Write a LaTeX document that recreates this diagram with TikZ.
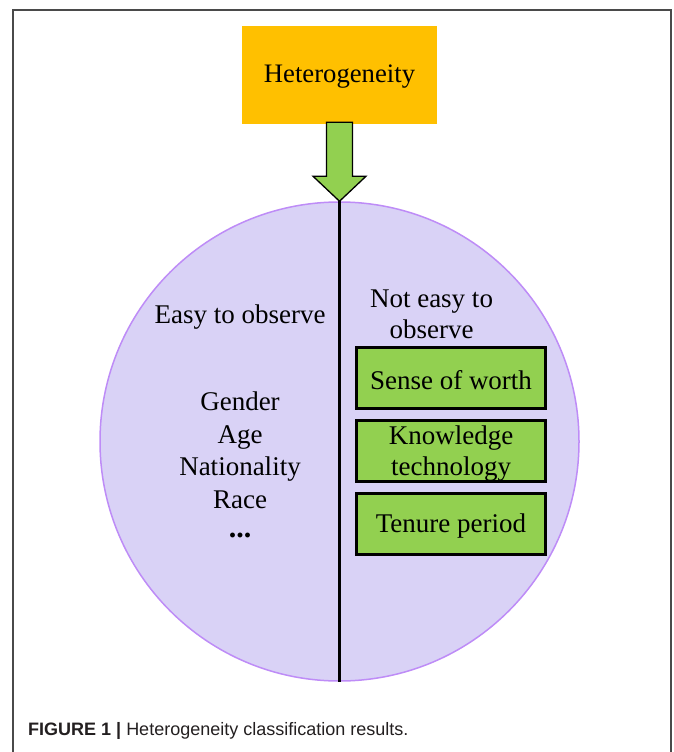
\documentclass[tikz,border=0pt]{standalone}
\usepackage{fontspec}
\setmainfont{Liberation Serif}
\newfontfamily\capfont{Liberation Sans}
\usetikzlibrary{calc}
\definecolor{orangebox}{HTML}{FFC000}
\definecolor{greenbox}{HTML}{92D050}
\definecolor{lavfill}{HTML}{D9D2F6}
\definecolor{lavedge}{HTML}{BE8CF7}
\definecolor{capgray}{HTML}{231F20}
\definecolor{framegray}{HTML}{4A4A4A}
\newcommand{\lowertext}[2]{\raisebox{-#1}[\height][\depth]{#2}}
\begin{document}
\begin{tikzpicture}[x=1pt,y=-1pt,
  txt/.style={font=\fontsize{27}{32}\selectfont, inner sep=0pt, align=center},
  greenitem/.style={draw=black, line width=3pt, fill=greenbox, minimum width=189pt, minimum height=61pt, inner sep=0pt, align=center, font=\fontsize{27}{29}\selectfont},
  frameline/.style={draw=framegray, line width=1.3pt},
]
\useasboundingbox (0,0) rectangle (673,752);
\draw[frameline] (13,10) rectangle (671,800);
\node[fill=orangebox, minimum width=195pt, minimum height=98pt, inner sep=0pt, font=\fontsize{26.7}{30}\selectfont] (hetero) at (339.5,75) {\lowertext{2pt}{Heterogeneity}};
\node[circle, fill=lavfill, draw=lavedge, line width=1.5pt, minimum size=479pt, inner sep=0pt] (circ) at (339.5,441.5) {};
\draw[line width=2.5pt] (circ.north) -- (circ.south);
\draw[fill=greenbox, line width=1.3pt, line join=miter]
  ($(circ.north)+(-13,-79)$) -- ($(circ.north)+(13,-79)$) -- ($(circ.north)+(13,-25)$)
  -- ($(circ.north)+(26.5,-25)$) -- (circ.north) -- ($(circ.north)+(-26.5,-25)$)
  -- ($(circ.north)+(-13,-25)$) -- cycle;
\node[txt, anchor=base] (easy) at (240,323) {Easy to observe};
\node[txt, anchor=base] (gender) at (240,410.5) {Gender};
\node[txt, anchor=base] (age) at (240,443) {Age};
\node[txt, anchor=base] (nation) at (240,475.5) {Nationality};
\node[txt, anchor=base] (race) at (240,508) {Race};
\node[txt, anchor=base, font=\fontsize{30}{32}\selectfont] (dots) at (240,537) {\textbf{...}};
\node[txt, anchor=base] (noteasy) at (431.5,307) {Not easy to};
\node[txt, anchor=base] (observe) at (431.5,338) {observe};
\node[greenitem] (worth) at (451,378) {\lowertext{2pt}{Sense of worth}};
\node[greenitem] (know) at (451,450.5) {\lowertext{2pt}{Knowledge}\\\lowertext{4pt}{technology}};
\node[greenitem] (tenure) at (451,523.5) {\lowertext{3pt}{Tenure period}};
\node[anchor=base west, inner sep=0pt, font=\capfont\fontsize{18}{20}\selectfont, text=capgray] (cap) at (28,735) {\textbf{FIGURE 1 |} Heterogeneity classification results.};
\end{tikzpicture}
\end{document}
